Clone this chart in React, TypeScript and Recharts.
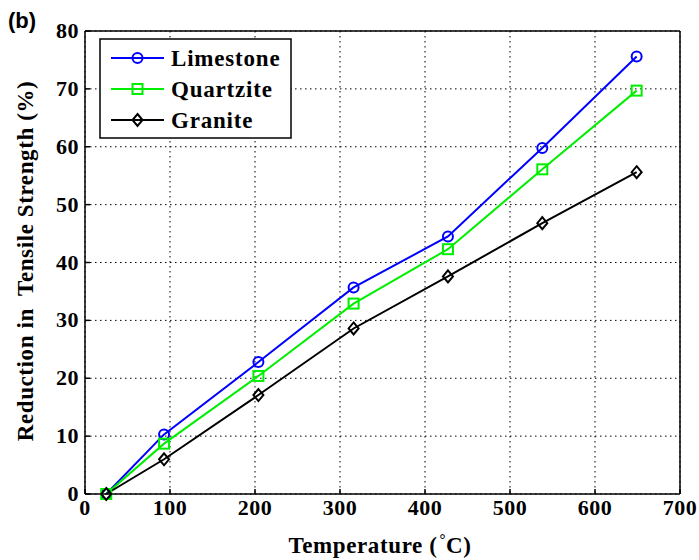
import React from "react";
import { LineChart, Line, XAxis, YAxis, CartesianGrid } from "recharts";

const temperatures = [25, 93, 204, 316, 427, 538, 649];
const limestone = [0, 10.3, 22.8, 35.7, 44.5, 59.8, 75.6];
const quartzite = [0, 8.7, 20.4, 32.9, 42.3, 56.1, 69.7];
const granite = [0, 6.0, 17.1, 28.6, 37.6, 46.8, 55.6];
const xTicks = [0, 100, 200, 300, 400, 500, 600, 700];
const yTicks = [0, 10, 20, 30, 40, 50, 60, 70, 80];

const series = [
  { key: "Limestone", color: "#0000ff", shape: "circle" },
  { key: "Quartzite", color: "#00ee00", shape: "square" },
  { key: "Granite", color: "#000000", shape: "diamond" },
];

const data = temperatures.map((t, i) => ({
  t,
  Limestone: limestone[i],
  Quartzite: quartzite[i],
  Granite: granite[i],
}));

const serif = "'Liberation Serif', 'Times New Roman', serif";

function Marker({ cx, cy, shape, color }: { cx: number; cy: number; shape: string; color: string }) {
  if (cx == null || cy == null) return null;
  if (shape === "circle")
    return <circle cx={cx} cy={cy} r={5} fill="none" stroke={color} strokeWidth={2} />;
  if (shape === "square")
    return <rect x={cx - 5} y={cy - 5} width={10} height={10} fill="none" stroke={color} strokeWidth={2} />;
  return (
    <path
      d={`M${cx},${cy - 6} L${cx + 5},${cy} L${cx},${cy + 6} L${cx - 5},${cy} Z`}
      fill="none"
      stroke={color}
      strokeWidth={2}
    />
  );
}

const XTick = ({ x, y, payload }: any) => (
  <text x={x} y={y + 24} textAnchor="middle" fontFamily={serif} fontWeight="bold" fontSize={22} letterSpacing={0.5} fill="#000">
    {payload.value}
  </text>
);

const YTick = ({ x, y, payload }: any) => (
  <text x={79} y={y + 7} textAnchor="end" fontFamily={serif} fontWeight="bold" fontSize={22} letterSpacing={0.5} fill="#000">
    {payload.value}
  </text>
);

// legend drawn straight into the svg so it doesn't eat plot space
function LegendBox({ x, y }: { x: number; y: number }) {
  return (
    <g transform={`translate(${x},${y})`}>
      <rect x={1} y={1} width={191} height={99} fill="#fff" stroke="#000" strokeWidth={1.5} />
      {series.map((s, i) => {
        const ly = 20 + i * 31;
        return (
          <g key={s.key}>
            <line x1={12} x2={65} y1={ly} y2={ly} stroke={s.color} strokeWidth={2} />
            <Marker cx={38.5} cy={ly} shape={s.shape} color={s.color} />
            <text x={72} y={ly + 8} fontFamily={serif} fontWeight="bold" fontSize={23} letterSpacing={0.8} fill="#000">
              {s.key}
            </text>
          </g>
        );
      })}
    </g>
  );
}

export default function App() {
  return (
    <div style={{ position: "absolute", left: 0, top: 0, width: 699, height: 560, background: "#fff" }}>
      <LineChart width={699} height={560} data={data} margin={{ top: 30, right: 18, bottom: 36, left: 25 }}>
        <CartesianGrid xAxisId="b" yAxisId="l" stroke="#000" strokeDasharray="1.5 3.5" strokeWidth={1} />
        <XAxis
          xAxisId="b"
          dataKey="t"
          type="number"
          domain={[0, 700]}
          ticks={xTicks}
          tick={<XTick />}
          stroke="#000"
          strokeWidth={1.5}
          tickSize={-5}
          height={30}
        />
        <XAxis
          xAxisId="t"
          orientation="top"
          dataKey="t"
          type="number"
          domain={[0, 700]}
          ticks={xTicks}
          tick={false}
          stroke="#000"
          strokeWidth={1.5}
          tickSize={-5}
          height={1}
        />
        <YAxis
          yAxisId="l"
          type="number"
          domain={[0, 80]}
          ticks={yTicks}
          tick={<YTick />}
          stroke="#000"
          strokeWidth={1.5}
          tickSize={-5}
          width={60}
        />
        <YAxis
          yAxisId="r"
          orientation="right"
          type="number"
          domain={[0, 80]}
          ticks={yTicks}
          tick={false}
          stroke="#000"
          strokeWidth={1.5}
          tickSize={-5}
          width={1}
        />
        {series.map((s) => (
          <Line
            key={s.key}
            xAxisId="b"
            yAxisId="l"
            dataKey={s.key}
            stroke={s.color}
            strokeWidth={2}
            isAnimationActive={false}
            dot={(p: any) => <Marker key={`${s.key}-${p.index}`} cx={p.cx} cy={p.cy} shape={s.shape} color={s.color} />}
            activeDot={false}
          />
        ))}
        <LegendBox x={99} y={38} />
        <text x={8} y={28} fontFamily="'Liberation Sans', Arial, sans-serif" fontWeight="bold" fontSize={22} fill="#000">
          (b)
        </text>
        <text
          x={380}
          y={553}
          textAnchor="middle"
          fontFamily={serif}
          fontWeight="bold"
          fontSize={23}
          letterSpacing={0.6}
          fill="#000"
          style={{ whiteSpace: "pre" }}
        >
          Temperature (<tspan fontSize={15} dy={-9} dx={2}>°</tspan><tspan dy={9}>C)</tspan>
        </text>
        <text
          x={0}
          y={0}
          transform="translate(33,261) rotate(-90)"
          textAnchor="middle"
          fontFamily={serif}
          fontWeight="bold"
          fontSize={23}
          letterSpacing={0.6}
          fill="#000"
          style={{ whiteSpace: "pre" }}
        >
          Reduction in  Tensile Strength (%)
        </text>
      </LineChart>
    </div>
  );
}
